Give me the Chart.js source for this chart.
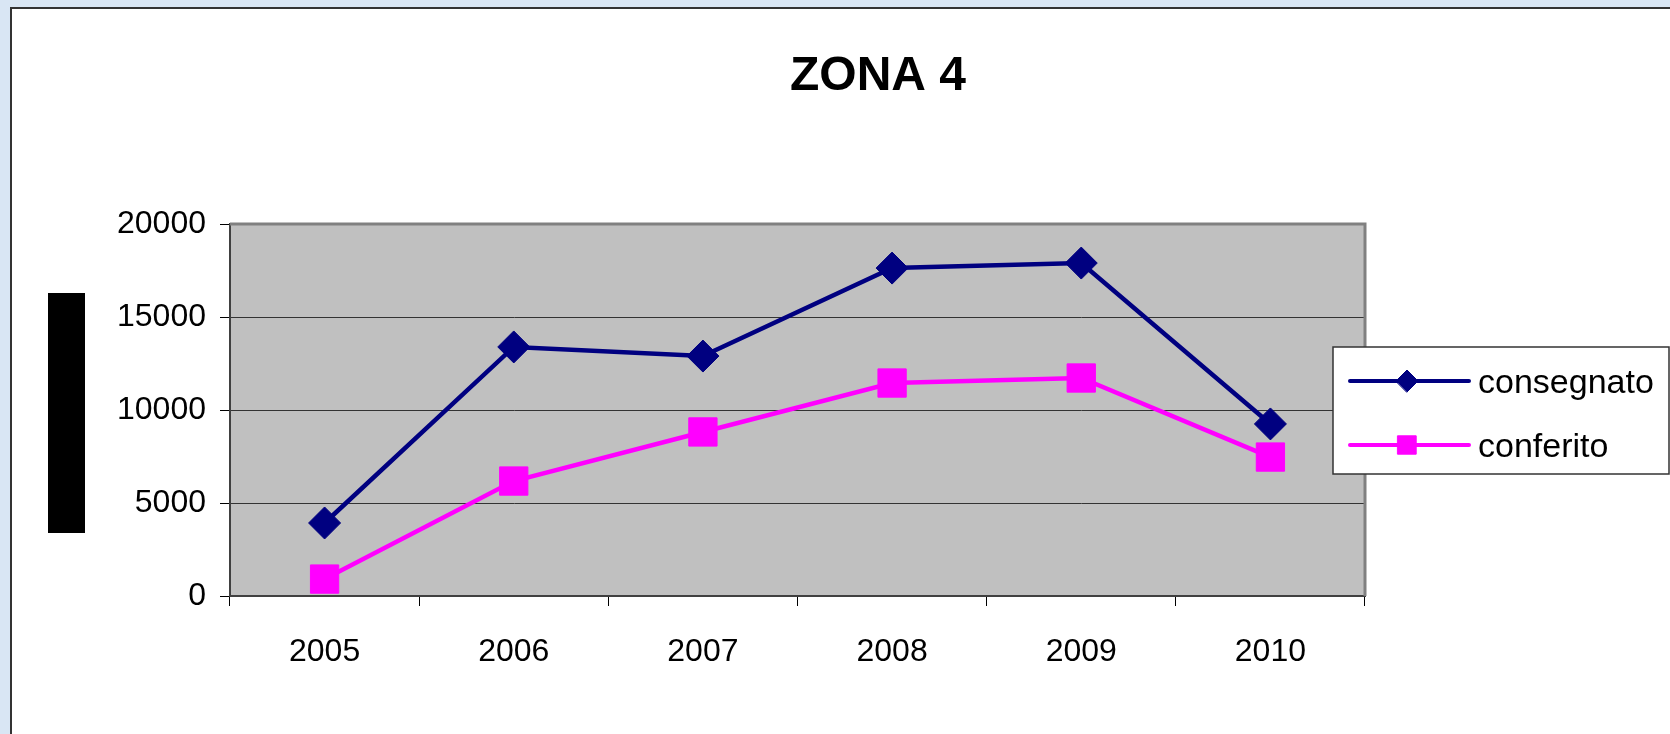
<!DOCTYPE html>
<html>
<head>
<meta charset="utf-8">
<title>ZONA 4</title>
<script src="https://cdn.jsdelivr.net/npm/chart.js@4.4.1/dist/chart.umd.min.js"></script>
<style>
  body { margin:0; background:#d9e6f4; width:1670px; height:734px; overflow:hidden; position:relative; font-family:"Liberation Sans", Arial, sans-serif; }
  #panel { position:absolute; left:10px; top:7px; right:0; bottom:0; background:#fff; border-left:2px solid #333; border-top:2px solid #333; }
  #blackbox { position:absolute; left:48px; top:293px; width:37px; height:240px; background:#000; }
  #mycanvas { position:absolute; left:0; top:0; }
</style>
</head>
<body>
<div id="panel"></div>
<div id="blackbox"></div>
<canvas id="mycanvas" width="1670" height="734"></canvas>
<script>
var titleText = 'ZONA 4';
var years = ['2005', '2006', '2007', '2008', '2009', '2010'];
var consegnato = [3925, 13390, 12900, 17630, 17900, 9250];
var conferito = [910, 6180, 8820, 11450, 11720, 7470];
var yTicks = [0, 5000, 10000, 15000, 20000];

var fontFamily = '"Liberation Sans", Arial, sans-serif';

// grey plot area + the excel style frame
var plotArea = {
    id: 'plotArea',
    beforeDraw: function(chart){
        var a = chart.chartArea, ctx = chart.ctx;
        ctx.save();
        ctx.fillStyle = '#c0c0c0';
        ctx.fillRect(a.left, a.top, a.right - a.left, a.bottom - a.top);
        ctx.restore();
    },
    beforeDatasetsDraw: function(chart){
        var a = chart.chartArea, ctx = chart.ctx;
        ctx.save();
        ctx.strokeStyle = '#808080';
        ctx.lineWidth = 3;
        ctx.beginPath();
        ctx.moveTo(a.left, a.top);
        ctx.lineTo(a.right, a.top);
        ctx.lineTo(a.right, a.bottom);
        ctx.stroke();
        ctx.restore();
    }
};

// title + legend (line with marker) drawn by hand
var extras = {
    id: 'extras',
    afterDraw: function(chart){
        var ctx = chart.ctx;
        ctx.save();
        ctx.fillStyle = '#000';
        ctx.font = 'bold 48px ' + fontFamily;
        ctx.textAlign = 'center';
        ctx.textBaseline = 'middle';
        ctx.fillText(titleText, 878, 77);

        ctx.fillStyle = '#fff';
        ctx.strokeStyle = '#333';
        ctx.lineWidth = 1.5;
        ctx.fillRect(1333, 347, 336, 127);
        ctx.strokeRect(1333, 347, 336, 127);

        var rows = [381, 445];
        chart.data.datasets.forEach(function(ds, i){
            var y = rows[i];
            ctx.strokeStyle = ds.borderColor;
            ctx.lineWidth = 4;
            ctx.lineCap = 'round';
            ctx.beginPath();
            ctx.moveTo(1350, y);
            ctx.lineTo(1469, y);
            ctx.stroke();
            ctx.fillStyle = ds.borderColor;
            ctx.lineWidth = 1;
            Chart.helpers.drawPoint(ctx, {
                pointStyle: ds.pointStyle,
                radius: ds.pointStyle == 'rect' ? 13 : 11,
                rotation: 0,
                borderWidth: 1
            }, 1407, y);
            ctx.fillStyle = '#000';
            ctx.font = '34px ' + fontFamily;
            ctx.textAlign = 'left';
            ctx.textBaseline = 'alphabetic';
            ctx.fillText(ds.label, 1478, y + 12);
        });
        ctx.restore();
    }
};

var ctx = document.getElementById('mycanvas');
var lineGraph = new Chart(ctx, {
    type: 'line',
    data: {
        labels: years,
        datasets: [
            {
                label: 'consegnato',
                data: consegnato,
                borderColor: '#000080',
                backgroundColor: '#000080',
                borderWidth: 4.5,
                pointStyle: 'rectRot',
                pointRadius: 16,
                pointBorderWidth: 1,
                tension: 0
            },
            {
                label: 'conferito',
                data: conferito,
                borderColor: '#ff00ff',
                backgroundColor: '#ff00ff',
                borderWidth: 4.5,
                pointStyle: 'rect',
                pointRadius: 20,
                pointBorderWidth: 1,
                tension: 0
            }
        ]
    },
    options: {
        responsive: false,
        animation: false,
        devicePixelRatio: 1,
        layout: { padding: { left: 0, right: 305, top: 224, bottom: 0 } },
        plugins: {
            legend: { display: false },
            title: { display: false },
            tooltip: { enabled: false }
        },
        scales: {
            x: {
                offset: true,
                afterFit: function(scale){ scale.height = 138; },
                grid: { offset: true, drawOnChartArea: false, drawTicks: true, tickLength: 10, tickColor: '#000' },
                border: { color: '#404040', width: 2 },
                ticks: { color: '#000', padding: 27, font: { family: fontFamily, size: 32 } }
            },
            y: {
                min: yTicks[0],
                max: yTicks[yTicks.length - 1],
                afterFit: function(scale){ scale.width = 230; },
                afterBuildTicks: function(scale){
                    scale.ticks = yTicks.map(function(v){ return { value: v }; });
                },
                grid: {
                    color: function(c){
                        if (!c.tick) return 'rgba(0,0,0,0)';
                        var v = c.tick.value;
                        return (v == yTicks[0] || v == yTicks[yTicks.length - 1]) ? 'rgba(0,0,0,0)' : '#333';
                    },
                    lineWidth: 1,
                    tickLength: 10,
                    tickColor: '#000'
                },
                border: { color: '#404040', width: 2 },
                ticks: {
                    color: '#000',
                    padding: 14,
                    font: { family: fontFamily, size: 32 },
                    callback: function(value){ return String(value); }
                }
            }
        }
    },
    plugins: [plotArea, extras]
});
</script>
</body>
</html>
